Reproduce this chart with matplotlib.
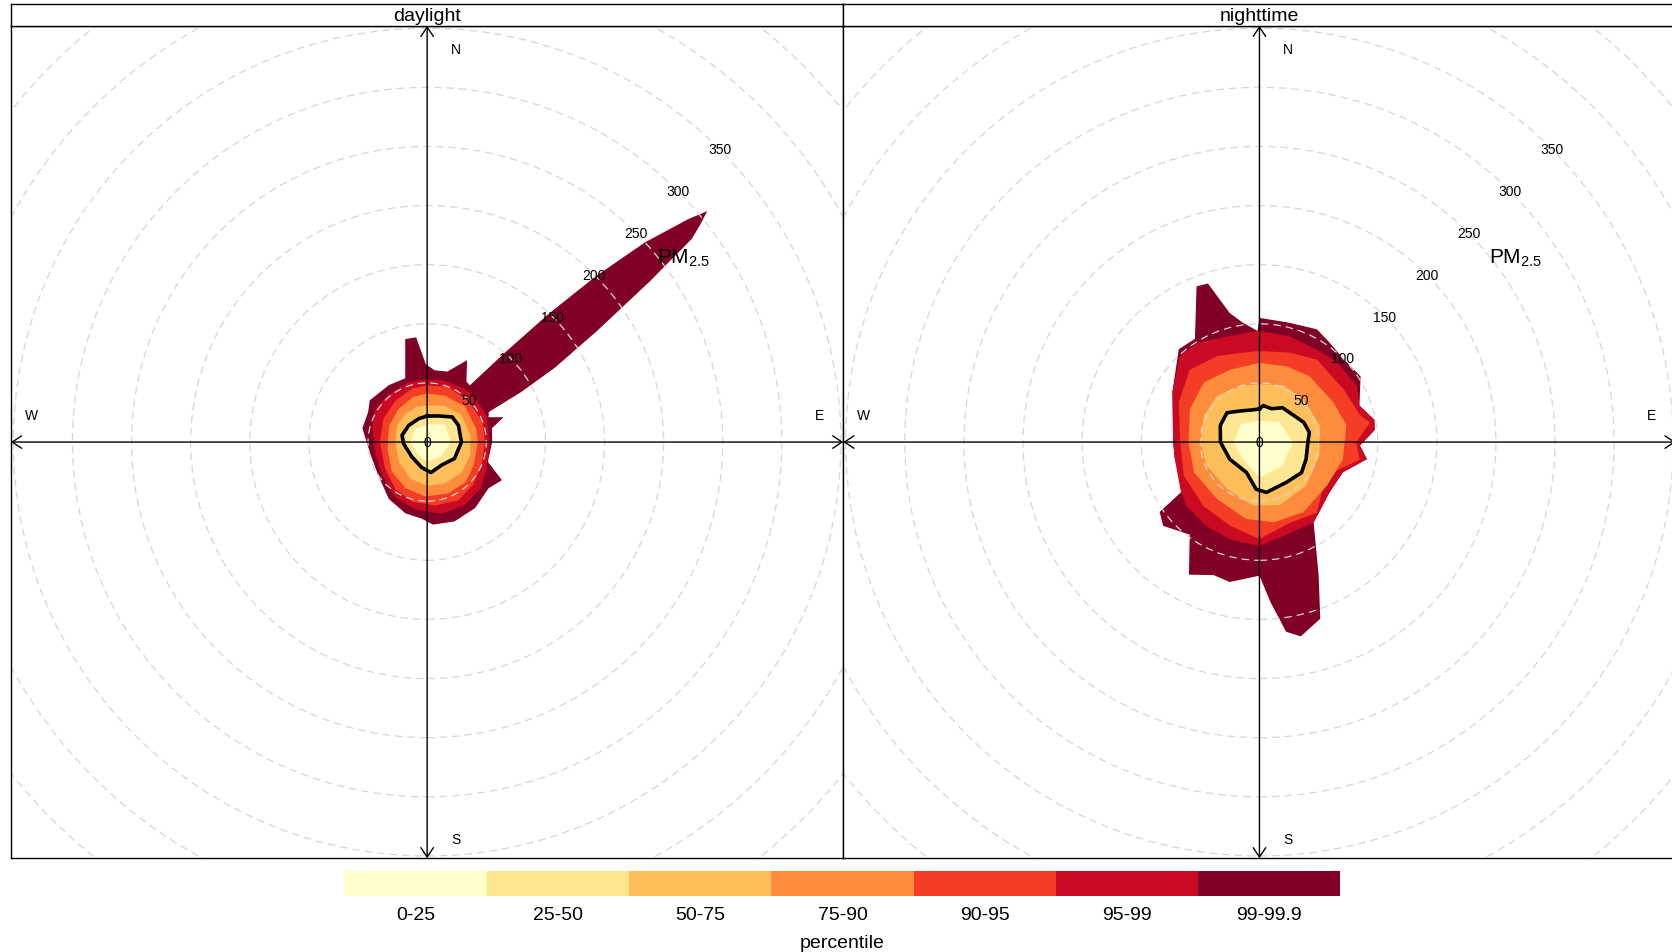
import matplotlib

matplotlib.use("Agg")
import matplotlib.pyplot as plt
import numpy as np
from matplotlib.patches import Circle, FancyArrowPatch

plt.rcParams["font.family"] = ["Liberation Sans", "DejaVu Sans"]
plt.rcParams["mathtext.fontset"] = "custom"
plt.rcParams["mathtext.rm"] = "Liberation Sans"
plt.rcParams["mathtext.it"] = "Liberation Sans:italic"

# percentile bands, inner to outer
BAND_LABELS = ["0-25", "25-50", "50-75", "75-90", "90-95", "95-99", "99-99.9"]
BAND_COLOURS = ["#FFFFCC", "#FFE692", "#FEBF5A", "#FD8D3C", "#F43D25", "#CA0923", "#800026"]
PANEL_NAMES = ["daylight", "nighttime"]
RING_VALUES = [50, 100, 150, 200, 250, 300, 350, 400, 450, 500]
RING_LABELS = [0, 50, 100, 150, 200, 250, 300, 350]

# percentile contours of PM2.5 as (wind bearing deg, concentration) pairs
day_p25 = [(0, 15), (45, 21), (90, 20), (135, 17), (180, 17), (225, 13), (270, 14), (315, 15)]
day_p50 = [(0, 22), (23, 24), (45, 30), (62, 30), (90, 29), (121, 27), (148, 23), (173, 26),
           (192, 22), (226, 18), (266, 20), (285, 22), (312, 21), (340, 21)]
day_p75 = [(0, 31), (26, 34), (52, 37), (81, 37), (107, 38), (131, 39), (157, 38), (180, 37),
           (205, 34), (235, 29), (270, 27), (299, 29), (322, 30), (343, 31)]
day_p90 = [(0, 41), (21, 42), (47, 44), (75, 43), (90, 43), (117, 44), (136, 47), (158, 47),
           (182, 46), (205, 43), (230, 39), (261, 34), (293, 35), (319, 37), (343, 40)]
day_p95 = [(0, 48), (21, 50), (45, 49), (70, 50), (90, 49), (113, 50), (133, 53), (152, 56),
           (173, 54), (194, 52), (214, 48), (238, 42), (270, 40), (298, 42), (322, 44), (344, 47)]
day_p99 = [(0, 53), (16, 54), (35, 55), (48, 55), (66, 55), (90, 53), (114, 55), (131, 60),
           (149, 62), (168, 62), (190, 58), (210, 54), (234, 47), (256, 45), (284, 48), (303, 52),
           (321, 52), (343, 53)]
day_p999 = [(0, 65), (6, 61), (16, 62), (26, 77), (33, 61), (37, 60), (41, 100), (43.5, 150),
            (45.5, 200), (47.5, 250), (49.5, 290), (50.5, 307), (51.5, 295), (52.5, 282),
            (54.2, 232), (56.8, 172), (59.8, 125), (62, 90), (64, 58), (68, 56), (72, 68),
            (78, 56), (90, 55), (108, 54), (117, 71), (127, 65), (144, 69), (161, 71), (176, 70),
            (184, 65), (197, 63), (214, 58), (236, 50), (257, 49), (282, 56), (297, 56), (306, 60),
            (326, 58), (341, 57), (348, 89), (354, 89), (359, 66)]

night_p25 = [(0, 18), (45, 24), (90, 28), (135, 28), (180, 30), (225, 20), (270, 22), (315, 22)]
night_p50 = [(0, 28), (6, 31), (20, 30), (34, 35), (66, 41), (79, 43), (90, 41), (110, 42),
             (126, 44), (146, 41), (172, 43), (184, 40), (203, 28), (240, 29), (270, 33),
             (293, 36), (312, 37), (328, 31), (345, 28)]
night_p75 = [(0, 49), (23, 52), (46, 52), (75, 53), (103, 52), (133, 54), (162, 56), (186, 54),
             (215, 48), (246, 49), (270, 50), (295, 52), (317, 53), (341, 50)]
night_p90 = [(0, 67), (20, 68), (37, 70), (62, 71), (79, 75), (102, 72), (123, 68), (148, 70),
             (170, 69), (190, 66), (217, 60), (245, 61), (270, 60), (295, 65), (317, 69), (338, 66)]
night_p95 = [(0, 77), (19, 80), (35, 85), (58, 84), (75, 88), (80, 95), (90, 82), (100, 86),
             (110, 70), (125, 66), (141, 77), (159, 73), (180, 82), (199, 75), (221, 72),
             (246, 70), (270, 67), (296, 76), (316, 85), (334, 81), (348, 77)]
night_p99 = [(0, 94), (16, 93), (32, 92), (44, 94), (60, 95), (70, 90), (79, 99), (84, 98),
             (92, 85), (99, 92), (110, 75), (126, 73), (146, 82), (166, 82), (180, 88), (197, 86),
             (212, 84), (229, 82), (239, 78), (259, 73), (270, 73), (300, 85), (317, 99),
             (328, 99), (345, 93), (359, 94)]
night_p999 = [(0, 105), (14, 104), (27, 107), (35, 103), (45, 100), (57, 102), (70, 90), (79, 99),
              (84, 98), (92, 85), (99, 92), (110, 75), (126, 73), (146, 82), (156, 123),
              (161, 158), (168, 168), (172, 162), (176, 136), (180, 113), (192, 121), (199, 119),
              (208, 127), (217, 98), (229, 108), (235, 103), (238, 74), (259, 73), (270, 73),
              (300, 85), (319, 104), (328, 103), (338, 142), (342, 141), (347, 112), (352, 102),
              (359, 94)]

day_contours = [day_p25, day_p50, day_p75, day_p90, day_p95, day_p99, day_p999]
night_contours = [night_p25, night_p50, night_p75, night_p90, night_p95, night_p99, night_p999]

LIMIT = 352


def to_xy(contour):
    bearing = np.radians([p[0] for p in contour])
    conc = np.array([p[1] for p in contour], dtype=float)
    x = conc * np.sin(bearing)
    y = conc * np.cos(bearing)
    return np.append(x, x[0]), np.append(y, y[0])


def draw_panel(ax, contours):
    # outermost band first so inner ones sit on top
    for level in range(len(contours) - 1, -1, -1):
        x, y = to_xy(contours[level])
        ax.fill(x, y, color=BAND_COLOURS[level], lw=0, zorder=1)

    for r in RING_VALUES:
        ax.add_patch(Circle((0, 0), r, fill=False, ec="#d6d6d6", lw=0.9,
                            ls=(0, (6, 4)), zorder=2))

    x, y = to_xy(contours[1])
    ax.plot(x, y, color="black", lw=2.6, zorder=3, solid_joinstyle="round")

    arrow_style = "<->,head_length=0.45,head_width=0.3"
    for a, b in [((0, -LIMIT), (0, LIMIT)), ((-LIMIT, 0), (LIMIT, 0))]:
        ax.add_patch(FancyArrowPatch(a, b, arrowstyle=arrow_style, mutation_scale=15,
                                     lw=1.0, color="black", shrinkA=0, shrinkB=0,
                                     clip_on=False, zorder=4))

    for value in RING_LABELS:
        d = value / np.sqrt(2)
        ax.text(d, d, str(value), fontsize=10, ha="center", va="center", zorder=5)

    for label, (tx, ty) in [("N", (24, 332)), ("E", (332, 23)), ("S", (24, -336)), ("W", (-335, 23))]:
        ax.text(tx, ty, label, fontsize=10, ha="center", va="center", zorder=5)

    ax.text(217, 156, r"PM$_{2.5}$", fontsize=15, ha="center", va="center", zorder=5)

    ax.set_xlim(-LIMIT, LIMIT)
    ax.set_ylim(-LIMIT, LIMIT)
    ax.set_xticks([])
    ax.set_yticks([])
    for spine in ax.spines.values():
        spine.set_linewidth(1.0)


fig = plt.figure(figsize=(16.72, 9.53), dpi=100)

panel_left = [11 / 1672, 843.3 / 1672]
panel_width = 832.3 / 1672
for i, (name, contours) in enumerate(zip(PANEL_NAMES, [day_contours, night_contours])):
    ax = fig.add_axes([panel_left[i], 1 - 859.3 / 953, panel_width, 832.5 / 953])
    draw_panel(ax, contours)

    strip = fig.add_axes([panel_left[i], 1 - 26.8 / 953, panel_width, 22.3 / 953])
    strip.set_xticks([])
    strip.set_yticks([])
    for spine in strip.spines.values():
        spine.set_linewidth(1.0)
    strip.text(0.5, 0.45, name, fontsize=14, ha="center", va="center", transform=strip.transAxes)

# colour key
cax = fig.add_axes([344.4 / 1672, 1 - 897 / 953, 996.1 / 1672, 25 / 953])
cax.bar(np.arange(len(BAND_COLOURS)), 1, width=1.0, color=BAND_COLOURS, lw=0)
cax.set_xlim(-0.5, len(BAND_COLOURS) - 0.5)
cax.set_ylim(0, 1)
cax.axis("off")
for i, label in enumerate(BAND_LABELS):
    cax.text(i, -0.76, label, fontsize=14, ha="center", va="center", clip_on=False)
cax.text(3, -1.88, "percentile", fontsize=14, ha="center", va="center", clip_on=False)

fig.savefig("out.png", dpi=100)
plt.close(fig)
